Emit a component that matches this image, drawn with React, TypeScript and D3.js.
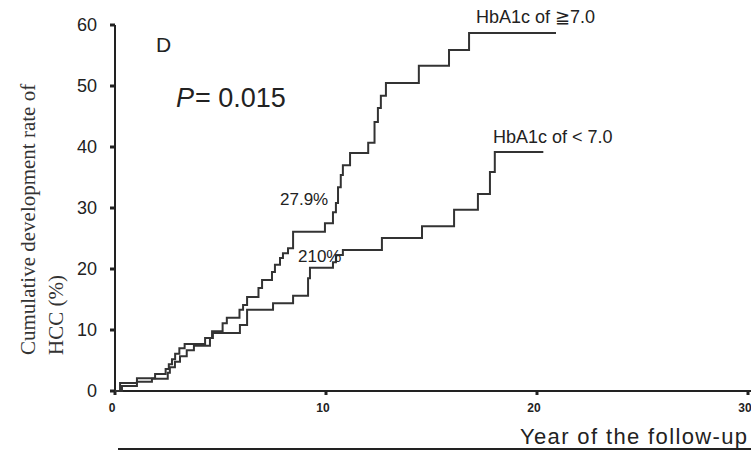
import React from "react";
import * as d3 from "d3";

// step positions (year of event, cumulative %)
const highYears = [0, 0.24, 1.04, 1.9, 2.4, 2.55, 2.7, 2.85, 3.05, 3.3, 4.27, 4.6, 5.1, 5.3, 5.9, 6.07, 6.26, 6.8, 6.97, 7.44, 7.58, 7.82, 7.96, 8.2, 8.44, 9.95, 10.33, 10.47, 10.57, 10.7, 10.8, 11.14, 12.0, 12.3, 12.46, 12.6, 12.84, 14.4, 15.83, 16.78];
const highValues = [0, 1.3, 2.1, 2.8, 3.6, 4.4, 5.2, 6.1, 7.0, 7.7, 8.7, 9.8, 11.1, 12.0, 13.3, 14.1, 15.4, 16.9, 18.2, 19.5, 20.7, 21.8, 22.6, 23.4, 26.1, 27.5, 29.3, 30.8, 33.4, 35.4, 37.0, 39.0, 40.7, 44.1, 46.4, 48.4, 50.5, 53.3, 55.9, 58.7];
const highEnd = 20.9;

const lowYears = [0, 0.33, 1.04, 1.75, 2.5, 2.6, 2.84, 3.08, 3.4, 3.74, 4.5, 4.64, 5.92, 6.26, 7.49, 8.44, 9.15, 9.24, 10.33, 10.47, 10.8, 12.65, 14.55, 16.07, 17.2, 17.77, 18.0];
const lowValues = [0, 0.8, 1.5, 2.0, 3.0, 3.9, 4.8, 5.7, 6.7, 7.4, 8.7, 9.5, 10.8, 13.3, 14.4, 15.6, 18.5, 20.2, 21.1, 22.3, 23.1, 25.1, 27.0, 29.7, 32.3, 35.9, 39.2];
const lowEnd = 20.3;

const yTicks = [0, 10, 20, 30, 40, 50, 60];
const xTicks = [0, 10, 20, 30];

const W = 751;
const H = 452;
const sans = "'Liberation Sans', Arial, sans-serif";
const serif = "'Liberation Serif', 'Times New Roman', serif";
const ink = "#222";

const x = d3.scaleLinear().domain([0, 30]).range([115, 748]);
const y = d3.scaleLinear().domain([0, 60]).range([391, 25]);

const toPoints = (years: number[], values: number[], end: number): [number, number][] => {
  const pts: [number, number][] = years.map((t, i) => [t, values[i]]);
  pts.push([end, values[values.length - 1]]);
  return pts;
};

const line = d3
  .line<[number, number]>()
  .x(d => x(d[0]))
  .y(d => y(d[1]))
  .curve(d3.curveStepAfter);

export default function App() {
  const highPath = line(toPoints(highYears, highValues, highEnd)) || "";
  const lowPath = line(toPoints(lowYears, lowValues, lowEnd)) || "";

  return (
    <svg
      width={W}
      height={H}
      style={{ position: "absolute", left: 0, top: 0, background: "#fff" }}
    >
      {/* axes */}
      <line x1={x(0)} x2={x(0)} y1={y(60)} y2={y(0)} stroke={ink} strokeWidth={2} />
      <line x1={x(0)} x2={W} y1={y(0)} y2={y(0)} stroke={ink} strokeWidth={2} />
      <line x1={118} x2={W} y1={449} y2={449} stroke={ink} strokeWidth={2} />

      {yTicks.map(t => (
        <g key={"y" + t}>
          <line x1={x(0) - 5} x2={x(0)} y1={y(t)} y2={y(t)} stroke={ink} strokeWidth={3} />
          <text
            x={97}
            y={y(t)}
            textAnchor="end"
            dominantBaseline="central"
            fontFamily={sans}
            fontSize={18}
            fill={ink}
          >
            {t}
          </text>
        </g>
      ))}

      {xTicks.map(t => (
        <g key={"x" + t}>
          <line x1={x(t)} x2={x(t)} y1={y(0)} y2={y(0) + 4} stroke={ink} strokeWidth={3} />
          <text
            x={x(t) - 3}
            y={412}
            textAnchor="middle"
            fontFamily={sans}
            fontSize={12}
            fontWeight="bold"
            fill={ink}
          >
            {t}
          </text>
        </g>
      ))}

      {/* curves */}
      <path d={highPath} fill="none" stroke="#333" strokeWidth={2} />
      <path d={lowPath} fill="none" stroke="#333" strokeWidth={2} />

      {/* titles */}
      <text
        transform="translate(35,355) rotate(-90)"
        fontFamily={serif}
        fontSize={21}
        fill="#333"
      >
        Cumulative development rate of
      </text>
      <text
        transform="translate(63,355) rotate(-90)"
        fontFamily={serif}
        fontSize={21}
        fill="#333"
      >
        HCC (%)
      </text>
      <text
        x={520}
        y={444}
        textLength={227}
        lengthAdjust="spacing"
        fontFamily={sans}
        fontSize={22}
        fill={ink}
      >
        Year of the follow-up
      </text>

      <text x={156} y={52} fontFamily={sans} fontSize={21} fill={ink}>
        D
      </text>
      <text x={176} y={107} fontFamily={sans} fontSize={27} fill={ink}>
        <tspan fontStyle="italic">P</tspan>
        <tspan dx={1}>= 0.015</tspan>
      </text>

      <text x={476} y={23} fontFamily={sans} fontSize={18} fill={ink}>
        HbA1c of ≧7.0
      </text>
      <text x={493} y={143} fontFamily={sans} fontSize={18} fill={ink}>
        HbA1c of &lt; 7.0
      </text>
      <text x={280} y={205} fontFamily={sans} fontSize={17} fill={ink}>
        27.9%
      </text>
      <text x={298} y={262} fontFamily={sans} fontSize={17} fill={ink}>
        210%
      </text>
    </svg>
  );
}
